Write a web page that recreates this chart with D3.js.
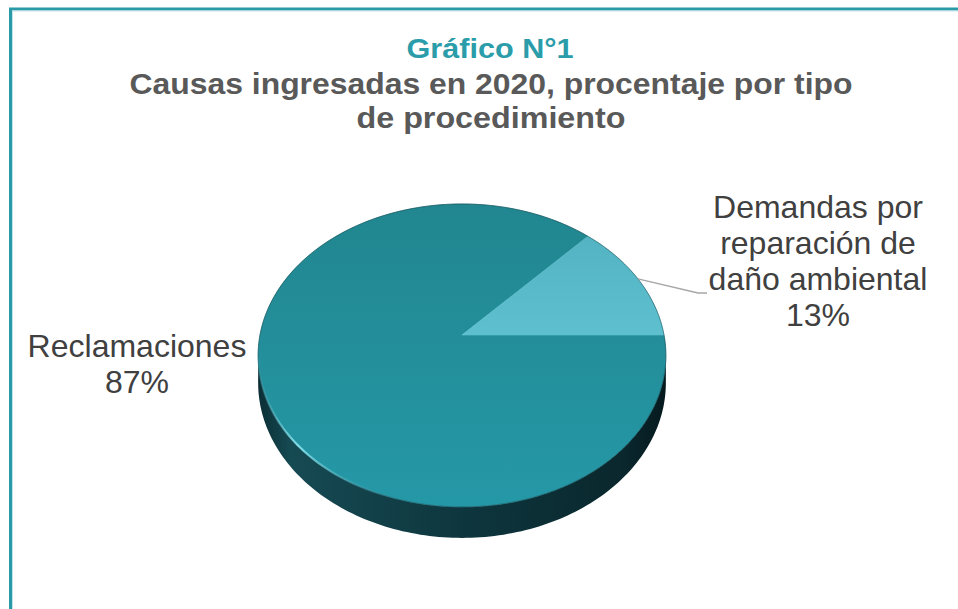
<!DOCTYPE html>
<html>
<head>
<meta charset="utf-8">
<script src="https://cdn.jsdelivr.net/npm/d3@7"></script>
<style>
  body { margin: 0; background: #fff; }
  text { font-family: "Liberation Sans", Arial, sans-serif; }
</style>
</head>
<body>
<script>
// datos
const categorias = ['Reclamaciones', 'Demandas por reparación de daño ambiental'];
const valores = [87, 13];
const etiquetas = [['Reclamaciones', '87%'], ['Demandas por', 'reparación de', 'daño ambiental', '13%']];
const colores = [['#21868f', '#2598a7'], ['#53b3c2', '#5ec0cf']];

const W = 958, H = 609;
const svg = d3.select('body').append('svg')
    .attr('width', W)
    .attr('height', H);

// marco
svg.append('line').attr('x1', 9).attr('x2', W).attr('y1', 9).attr('y2', 9)
    .attr('stroke', '#2a9aa8').attr('stroke-width', 3);
svg.append('line').attr('x1', 10.5).attr('x2', 10.5).attr('y1', 8).attr('y2', H)
    .attr('stroke', '#2a9aa8').attr('stroke-width', 3);
svg.append('line').attr('x1', 12).attr('x2', W).attr('y1', 11).attr('y2', 11)
    .attr('stroke', '#bfe3e8').attr('stroke-width', 1);
svg.append('line').attr('x1', 12.5).attr('x2', 12.5).attr('y1', 11).attr('y2', H)
    .attr('stroke', '#bfe3e8').attr('stroke-width', 1);

// titulo
svg.append('text').attr('x', 490).attr('y', 58).attr('text-anchor', 'middle')
    .attr('font-size', 28).attr('font-weight', 'bold').attr('fill', '#2b9ca9')
    .attr('textLength', 167).attr('lengthAdjust', 'spacingAndGlyphs')
    .text('Gráfico N°1');
svg.append('text').attr('x', 491).attr('y', 94).attr('text-anchor', 'middle')
    .attr('font-size', 29).attr('font-weight', 'bold').attr('fill', '#595959')
    .attr('textLength', 723).attr('lengthAdjust', 'spacingAndGlyphs')
    .text('Causas ingresadas en 2020, procentaje por tipo');
svg.append('text').attr('x', 491).attr('y', 128).attr('text-anchor', 'middle')
    .attr('font-size', 29).attr('font-weight', 'bold').attr('fill', '#595959')
    .attr('textLength', 269).attr('lengthAdjust', 'spacingAndGlyphs')
    .text('de procedimiento');

// pie 3d con perspectiva
const cx = 462, cy = 335, R = 202, Ry = 148.7, e = 0.135, grosor = 26.8;
function proj(a, r, drop) {
  const u = r * Math.sin(a), v = -r * Math.cos(a);
  const w = 1 - e * v;
  return [cx + R * u / w, cy + Ry * v / w + (drop || 0) / w];
}
function arco(a0, a1, drop) {
  const n = Math.max(2, Math.ceil(Math.abs(a1 - a0) / 0.02));
  return d3.range(n + 1).map(i => proj(a0 + (a1 - a0) * i / n, 1, drop));
}

const pie = d3.pie().sort(null).startAngle(Math.PI / 2).endAngle(Math.PI / 2 + 2 * Math.PI);
const arcos = pie(valores);

const defs = svg.append('defs');
colores.forEach((c, i) => {
  const g = defs.append('linearGradient').attr('id', 'top' + i)
      .attr('x1', 0).attr('y1', 0).attr('x2', 0).attr('y2', 1);
  g.append('stop').attr('offset', '0%').attr('stop-color', c[0]);
  g.append('stop').attr('offset', '100%').attr('stop-color', c[1]);
});
const gs = defs.append('linearGradient').attr('id', 'lado')
    .attr('x1', 0).attr('y1', 0).attr('x2', 1).attr('y2', 0);
gs.append('stop').attr('offset', '0%').attr('stop-color', '#0b2e35');
gs.append('stop').attr('offset', '8%').attr('stop-color', '#164a53');
gs.append('stop').attr('offset', '50%').attr('stop-color', '#0e363e');
gs.append('stop').attr('offset', '90%').attr('stop-color', '#0a272d');
gs.append('stop').attr('offset', '100%').attr('stop-color', '#061a1e');
const gb = defs.append('linearGradient').attr('id', 'brillo')
    .attr('x1', 0).attr('y1', 0).attr('x2', 1).attr('y2', 0);
gb.append('stop').attr('offset', '0%').attr('stop-color', '#7fe3f0').attr('stop-opacity', 0.1);
gb.append('stop').attr('offset', '30%').attr('stop-color', '#8ae8f4').attr('stop-opacity', 0.9);
gb.append('stop').attr('offset', '60%').attr('stop-color', '#6fd6e4').attr('stop-opacity', 0.45);
gb.append('stop').attr('offset', '100%').attr('stop-color', '#5cc8d6').attr('stop-opacity', 0);

const linea = d3.line();
const a1 = Math.acos(-e), a2 = 2 * Math.PI - Math.acos(-e);

// lados
arcos.forEach((d, i) => {
  [0, 2 * Math.PI].forEach(off => {
    const s = Math.max(d.startAngle - off, a1), t = Math.min(d.endAngle - off, a2);
    if (t <= s) return;
    const pts = arco(s, t, 0).concat(arco(t, s, grosor));
    svg.append('path').attr('d', linea(pts) + 'Z')
        .attr('fill', 'url(#lado)');
  });
});

// caras superiores
arcos.forEach((d, i) => {
  const pts = [proj(0, 0)].concat(arco(d.startAngle, d.endAngle, 0));
  svg.append('path').attr('d', linea(pts) + 'Z')
      .attr('fill', 'url(#top' + i + ')')
      .attr('stroke', 'url(#top' + i + ')').attr('stroke-width', 0.6);
});

// borde y brillo
svg.append('path').attr('d', linea(arco(0, 2 * Math.PI, 0)) + 'Z')
    .attr('fill', 'none').attr('stroke', '#0d3e45').attr('stroke-opacity', 0.5).attr('stroke-width', 1);
svg.append('path').attr('d', linea(arco(Math.PI * 1.45, Math.PI * 1.1, 0)))
    .attr('fill', 'none').attr('stroke', 'url(#brillo)').attr('stroke-width', 2.2);

// linea guia
const mid = (arcos[1].startAngle + arcos[1].endAngle) / 2;
svg.append('path').attr('d', linea([proj(mid, 1), [698, 293], [707, 293]]))
    .attr('fill', 'none').attr('stroke', '#a6a6a6').attr('stroke-width', 1.3);

// etiquetas
const posEtiq = [[137, 357], [818, 218]];
etiquetas.forEach((lines, i) => {
  const t = svg.append('text').attr('text-anchor', 'middle')
      .attr('font-size', 32).attr('fill', '#404040');
  lines.forEach((l, j) => {
    t.append('tspan').attr('x', posEtiq[i][0]).attr('y', posEtiq[i][1] + j * 36).text(l);
  });
});
</script>
</body>
</html>
